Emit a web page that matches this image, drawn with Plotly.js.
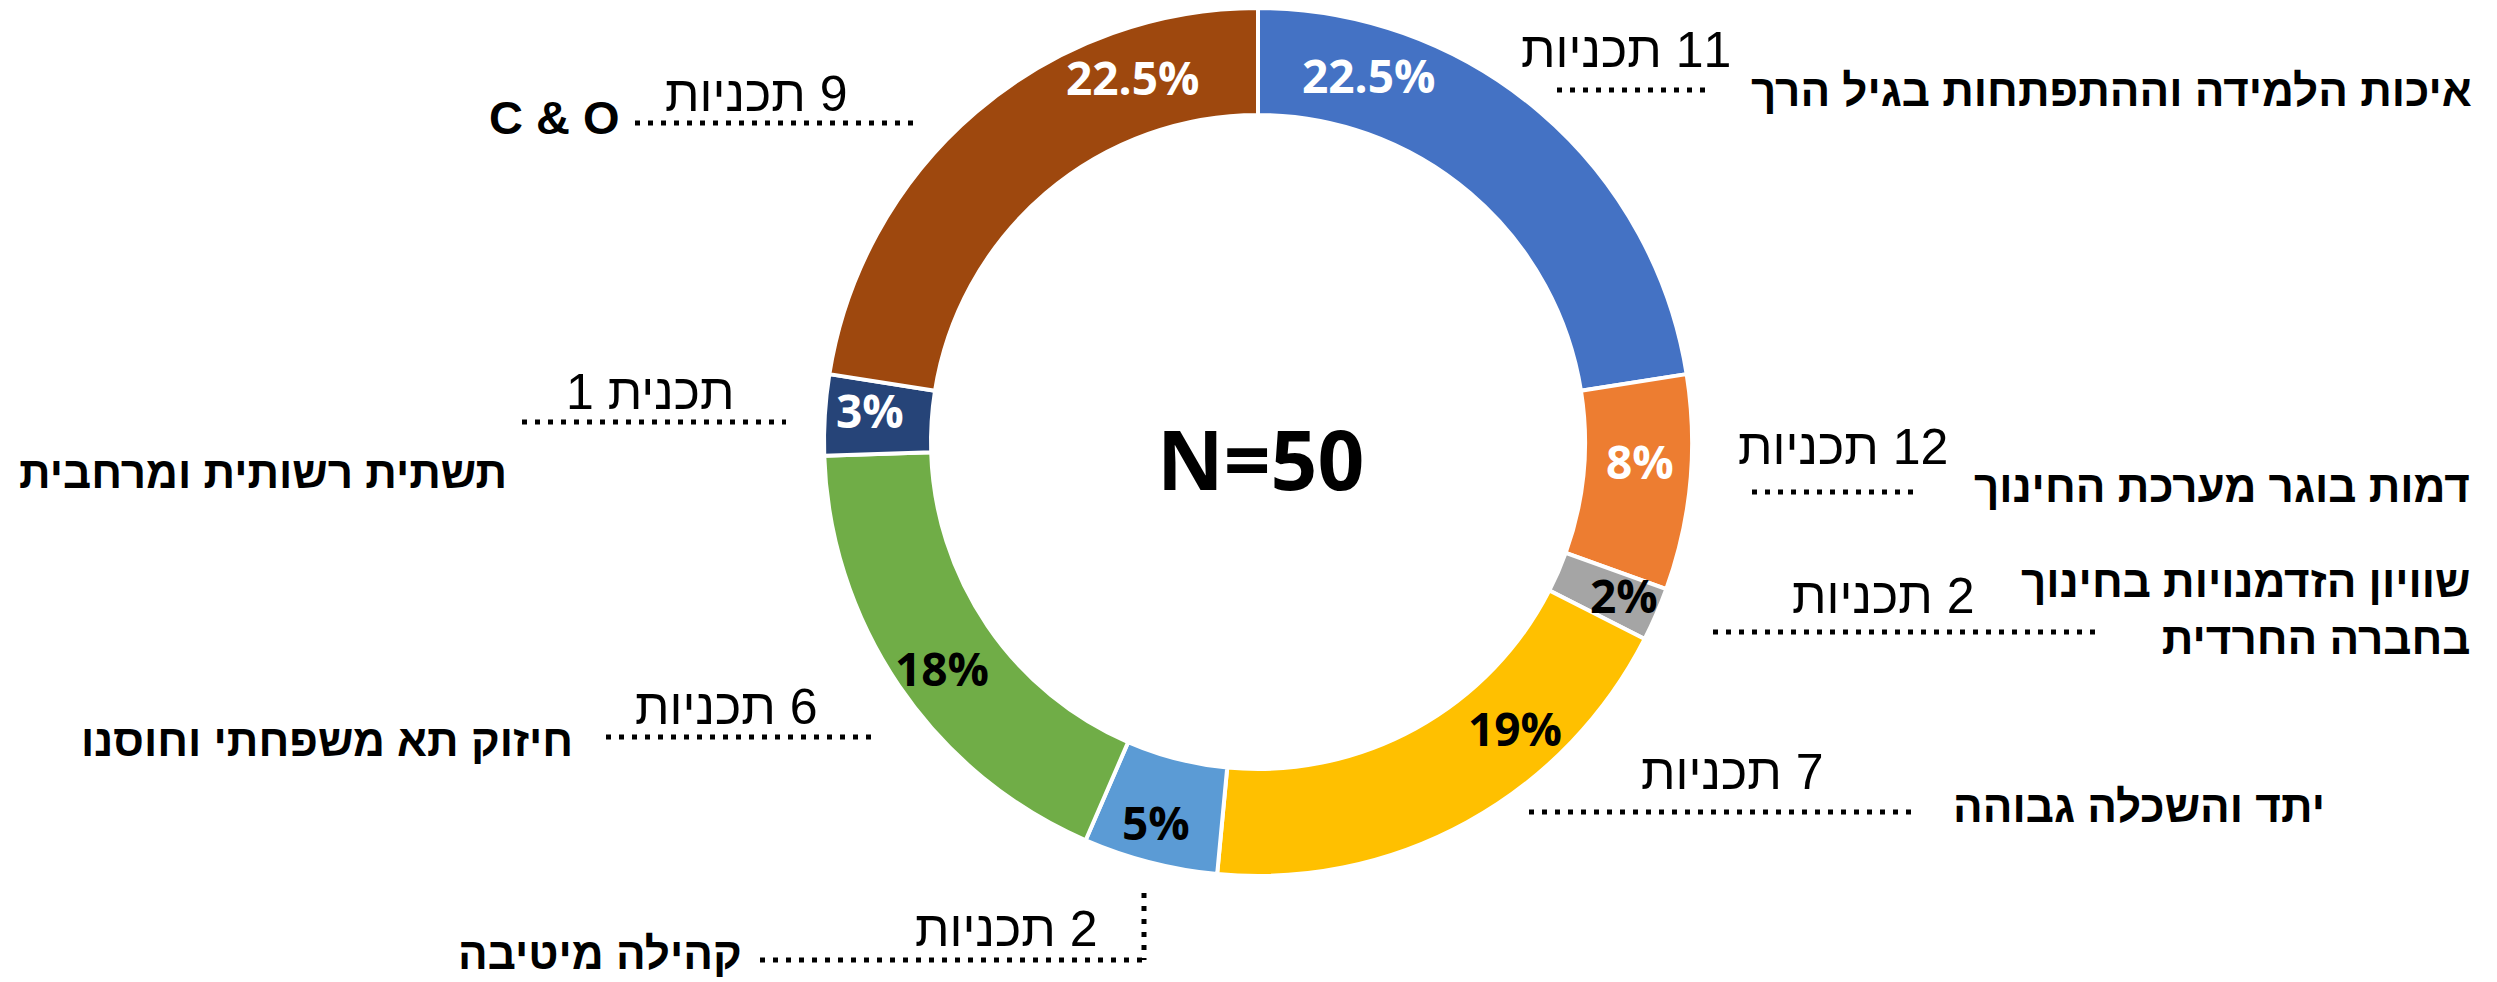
<!DOCTYPE html>
<html>
<head>
<meta charset="utf-8">
<script src="https://cdn.plot.ly/plotly-3.0.1.min.js"></script>
<style>html,body{margin:0;padding:0;background:#fff;}</style>
</head>
<body>
<div id="chart" style="width:2497px;height:982px;"></div>
<script>
// ---- data ----
const categories = [
  'איכות הלמידה וההתפתחות בגיל הרך',
  'דמות בוגר מערכת החינוך',
  'שוויון הזדמנויות בחינוך<br>בחברה החרדית',
  'יתד והשכלה גבוהה',
  'קהילה מיטיבה',
  'חיזוק תא משפחתי וחוסנו',
  'תשתית רשותית ומרחבית',
  'C & O'
];
const percents = [22.5, 8, 2, 19, 5, 18, 3, 22.5];
const programCounts = [11, 12, 2, 7, 2, 6, 1, 9];
const sliceColors = ['#4472C4', '#ED7D31', '#A5A5A5', '#FFC000', '#5B9BD5', '#70AD47', '#264478', '#9E480E'];
const pctTextColors = ['#FFFFFF', '#FFFFFF', '#000000', '#000000', '#000000', '#000000', '#FFFFFF', '#FFFFFF'];

// ---- layout helpers (pixel -> paper) ----
const W = 2497, H = 982;
const px = x => x / W;
const py = y => 1 - y / H;

// ring geometry
const cx = 1258, cy = 442, R = 434, Rin = 327;

// label placement (pixels)
const pctPos = [[1368, 75], [1640, 461], [1624, 595], [1515, 728], [1156, 822], [942, 668], [870, 410], [1132, 77]];
const countPos = [[1626, 50], [1843, 447], [1883, 596], [1732, 772], [1006, 929], [726, 707], [650, 392], [756, 94]];
const namePos = [[2473, 91], [2471, 486], [2471, 610], [2326, 806], [743, 953], [574, 740], [508, 472], [621, 117]];
const nameSizes = [44, 44, 44, 44, 44, 44, 44, 47];
const leaders = [
  [[1557, 90, 1713, 90]],
  [[1752, 492, 1921, 492]],
  [[1713, 632, 2099, 632]],
  [[1529, 812, 1916, 812]],
  [[760, 960, 1144, 960], [1144, 893, 1144, 960]],
  [[606, 737, 878, 737]],
  [[522, 422, 786, 422]],
  [[635, 123, 914, 123]]
];

const RLM = '\u200F';
const countText = n => RLM + (n === 1 ? 'תכנית 1' : n + ' תכניות');
const total = programCounts.reduce((a, b) => a + b, 0);

const trace = {
  type: 'pie',
  values: percents,
  labels: categories,
  marker: { colors: sliceColors, line: { color: '#FFFFFF', width: 4 } },
  sort: false,
  direction: 'clockwise',
  rotation: 0,
  hole: Rin / R,
  textinfo: 'none',
  hoverinfo: 'label+percent',
  domain: { x: [px(cx - R), px(cx + R)], y: [py(cy + R), py(cy - R)] }
};

const annotations = [];
const shapes = [];
percents.forEach((p, i) => {
  annotations.push({
    xref: 'paper', yref: 'paper', x: px(pctPos[i][0]), y: py(pctPos[i][1]),
    text: p + '%', showarrow: false, xanchor: 'center', yanchor: 'middle',
    font: { family: 'Open Sans', size: 46, weight: 700, color: pctTextColors[i] }
  });
  annotations.push({
    xref: 'paper', yref: 'paper', x: px(countPos[i][0]), y: py(countPos[i][1]),
    text: countText(programCounts[i]), showarrow: false, xanchor: 'center', yanchor: 'middle',
    font: { family: 'Liberation Sans', size: 50, color: '#000000' }
  });
  annotations.push({
    xref: 'paper', yref: 'paper', x: px(namePos[i][0]), y: py(namePos[i][1]),
    text: categories[i], showarrow: false, xanchor: 'right', yanchor: 'middle', align: 'right',
    borderpad: 0,
    font: { family: 'Liberation Sans', size: nameSizes[i], weight: 700, color: '#000000' }
  });
  leaders[i].forEach(s => {
    shapes.push({
      type: 'line', xref: 'paper', yref: 'paper',
      x0: px(s[0]), y0: py(s[1]), x1: px(s[2]), y1: py(s[3]),
      line: { color: '#000000', width: 5, dash: '5px,8px' }
    });
  });
});
annotations.push({
  xref: 'paper', yref: 'paper', x: px(1260), y: py(458),
  text: 'N=' + total, showarrow: false, xanchor: 'center', yanchor: 'middle',
  font: { family: 'Open Sans', size: 82, weight: 700, color: '#000000' }
});

const layout = {
  width: W, height: H,
  margin: { l: 0, r: 0, t: 0, b: 0 },
  showlegend: false,
  paper_bgcolor: '#FFFFFF',
  annotations: annotations,
  shapes: shapes
};

Plotly.newPlot('chart', [trace], layout, { displayModeBar: false, responsive: false });
</script>
</body>
</html>
